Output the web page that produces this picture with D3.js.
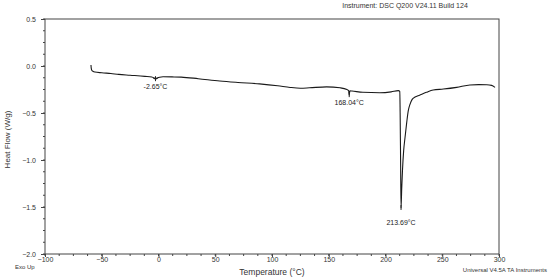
<!DOCTYPE html>
<html>
<head>
<meta charset="utf-8">
<script src="https://cdn.jsdelivr.net/npm/d3@7"></script>
<style>
  body { margin: 0; background: #fff; }
  svg { display: block; font-family: "Liberation Sans", Arial, sans-serif; }
  .axis path, .axis line { stroke: #444; }
  .axis text { fill: #333; font-size: 7px; }
</style>
</head>
<body>
<svg id="chart" width="550" height="279"></svg>
<script>
// DSC trace
const temps = [-59.5, -59.3, -58.8, -57.5, -56, -50, -42, -35, -25, -12, -6, -4, -2.65, -1, 1, 4, 12, 20,
  35, 54, 70, 89, 105, 116, 125, 133, 148, 160, 166, 167.5, 168.04, 168.6, 170.5, 180, 195, 205,
  211.3, 212.6, 212.9, 213.3, 213.69, 214.3, 215, 216, 217.2, 218.7, 220, 221.5, 223.5, 226, 230,
  236, 242, 251, 262.7, 274.4, 282, 289.2, 293.5, 296.5];
const heatFlow = [0.01, -0.02, -0.045, -0.058, -0.064, -0.072, -0.08, -0.089, -0.098, -0.11, -0.117, -0.127, -0.14, -0.128, -0.119, -0.115, -0.116, -0.118,
  -0.135, -0.16, -0.175, -0.19, -0.21, -0.228, -0.236, -0.232, -0.222, -0.232, -0.25, -0.262, -0.31, -0.264, -0.266, -0.28, -0.284, -0.275,
  -0.262, -0.27, -0.5, -1.0, -1.51, -1.3, -1.1, -0.9, -0.76, -0.6, -0.48, -0.41, -0.355, -0.33, -0.31,
  -0.28, -0.255, -0.245, -0.227, -0.202, -0.198, -0.199, -0.206, -0.227];

const peakTemps  = [-2.65, 168.04, 213.69];
const peakLabels = ["-2.65°C", "168.04°C", "213.69°C"];

const xTicks = [-100, -50, 0, 50, 100, 150, 200, 250, 300];
const yTicks = [0.5, 0.0, -0.5, -1.0, -1.5, -2.0];

const svg = d3.select("#chart");
const margin = { top: 19, right: 51, bottom: 25, left: 45 };
const width = +svg.attr("width"), height = +svg.attr("height");
const innerW = width - margin.left - margin.right;
const innerH = height - margin.top - margin.bottom;

const x = d3.scaleLinear().domain([-100, 300]).range([margin.left, margin.left + innerW]);
const y = d3.scaleLinear().domain([-2.0, 0.5]).range([margin.top + innerH, margin.top]);

// minor ticks
const xMinor = d3.range(-100, 300.01, 12.5);
const yMinor = d3.range(-2.0, 0.501, 0.125);

svg.append("g").attr("class", "axis")
  .selectAll("line").data(xMinor).join("line")
  .attr("x1", d => x(d)).attr("x2", d => x(d))
  .attr("y1", margin.top + innerH).attr("y2", margin.top + innerH + 2);
svg.append("g").attr("class", "axis")
  .selectAll("line").data(yMinor).join("line")
  .attr("x1", margin.left - 2).attr("x2", margin.left)
  .attr("y1", d => y(d)).attr("y2", d => y(d));

// frame
svg.append("rect")
  .attr("x", margin.left).attr("y", margin.top)
  .attr("width", innerW).attr("height", innerH)
  .attr("fill", "none").attr("stroke", "#444");

svg.append("g").attr("class", "axis")
  .attr("transform", `translate(0,${margin.top + innerH})`)
  .call(d3.axisBottom(x).tickValues(xTicks).tickSize(3).tickPadding(0).tickFormat(d3.format("d")))
  .call(g => g.select(".domain").remove());

svg.append("g").attr("class", "axis")
  .attr("transform", `translate(${margin.left},0)`)
  .call(d3.axisLeft(y).tickValues(yTicks).tickSize(4).tickPadding(5).tickFormat(d3.format(".1f")))
  .call(g => g.select(".domain").remove());

// trace
const pts = temps.map((t, i) => ({ t, v: heatFlow[i] }));
const line = d3.line().x(d => x(d.t)).y(d => y(d.v)).curve(d3.curveMonotoneX);
svg.append("path").datum(pts)
  .attr("fill", "none").attr("stroke", "#1a1a1a").attr("stroke-width", 1.1)
  .attr("d", line);

// peak annotations
const valueAt = t => heatFlow[temps.indexOf(t)];
peakTemps.forEach((t, i) => {
  const px = x(t), py = y(valueAt(t));
  svg.append("line").attr("x1", px).attr("x2", px)
    .attr("y1", py - 3).attr("y2", py + 2)
    .attr("stroke", "#222").attr("stroke-width", 1);
  if (i === 0) {
    svg.append("line").attr("x1", px - 2.5).attr("x2", px + 2.5)
      .attr("y1", py - 1).attr("y2", py - 1)
      .attr("stroke", "#222").attr("stroke-width", 0.8);
  }
  svg.append("text")
    .attr("x", px).attr("y", py + (i === 2 ? 17 : 10))
    .attr("text-anchor", "middle")
    .attr("font-size", 7).attr("fill", "#222")
    .text(peakLabels[i]);
});

// titles
svg.append("text")
  .attr("transform", `translate(10,${margin.top + innerH / 2 + 3}) rotate(-90)`)
  .attr("text-anchor", "middle").attr("font-size", 8).attr("fill", "#333")
  .text("Heat Flow (W/g)");

svg.append("text")
  .attr("x", 272).attr("y", 275)
  .attr("text-anchor", "middle").attr("font-size", 8.5).attr("fill", "#333")
  .text("Temperature (°C)");

svg.append("text")
  .attr("x", 15).attr("y", 269)
  .attr("font-size", 6).attr("fill", "#333")
  .text("Exo Up");

svg.append("text")
  .attr("x", 547).attr("y", 272)
  .attr("text-anchor", "end").attr("font-size", 6).attr("fill", "#333")
  .text("Universal V4.5A TA Instruments");

svg.append("text")
  .attr("x", 405).attr("y", 8)
  .attr("text-anchor", "middle").attr("font-size", 7).attr("fill", "#333")
  .text("Instrument: DSC Q200 V24.11 Build 124");
</script>
</body>
</html>
